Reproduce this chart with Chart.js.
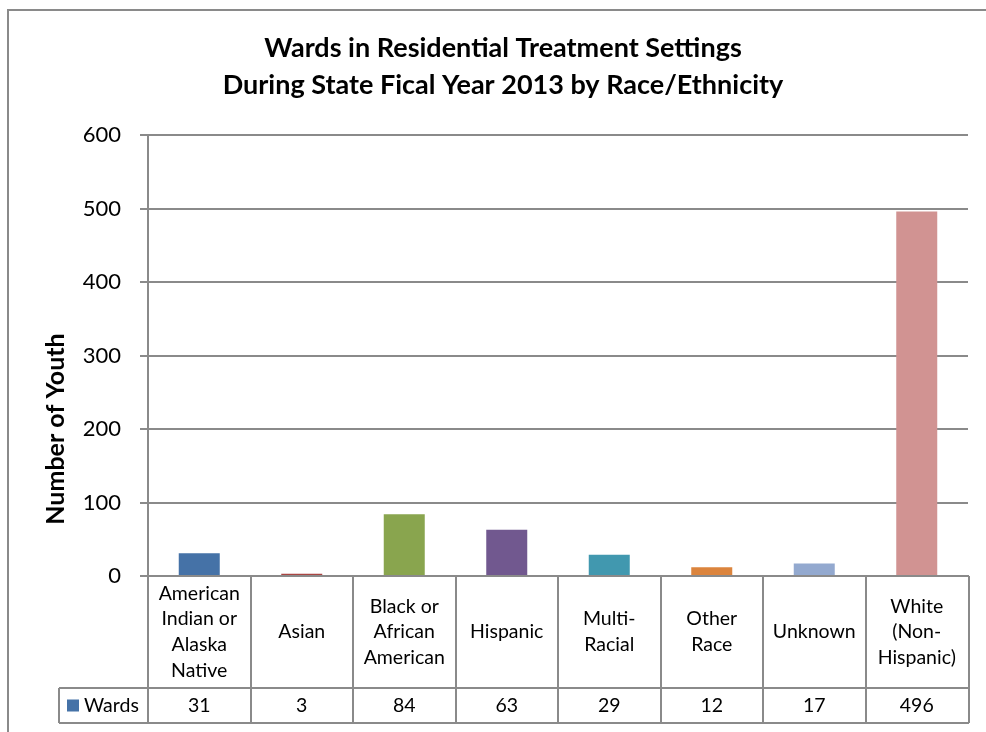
<!DOCTYPE html>
<html><head><meta charset="utf-8">
<script src="https://cdn.jsdelivr.net/npm/chart.js@4.4.0/dist/chart.umd.min.js"></script>
<style>html,body{margin:0;padding:0;background:#fff;} #wrap{width:986px;height:732px;position:relative;}</style>
</head><body><div id="wrap"><canvas id="c" width="986" height="732"></canvas></div>
<script>
const titleLines = ['Wards in Residential Treatment Settings', 'During State Fical Year 2013 by Race/Ethnicity'];
const categories = [
  ['American', 'Indian or', 'Alaska', 'Native'],
  ['Asian'],
  ['Black or', 'African', 'American'],
  ['Hispanic'],
  ['Multi-', 'Racial'],
  ['Other', 'Race'],
  ['Unknown'],
  ['White', '(Non-', 'Hispanic)']
];
const seriesName = 'Wards';
const wards = [31, 3, 84, 63, 29, 12, 17, 496];
const barColors = ['#4572A7', '#AA4643', '#89A54E', '#71588F', '#4198AF', '#DB843D', '#93A9CF', '#D19392'];
const yMin = 0, yMax = 600, yStep = 100;
const yTitle = 'Number of Youth';

const GRID = '#8a8a8a';
const FONT = 'Lato';

const tablePlugin = {
  id: 'dataTable',
  beforeDraw(chart) {
    const ctx = chart.ctx;
    ctx.save();
    ctx.strokeStyle = GRID; ctx.lineWidth = 2;
    ctx.beginPath(); ctx.moveTo(8, 732); ctx.lineTo(8, 10); ctx.lineTo(986, 10); ctx.stroke();
    ctx.restore();
  },
  afterDraw(chart) {
    const ctx = chart.ctx, a = chart.chartArea, x = chart.scales.x;
    const n = categories.length;
    const w = (a.right - a.left) / n;
    const top = a.bottom, bot = x.bottom, mid = bot - 35;
    const legLeft = 59;
    ctx.save();
    ctx.strokeStyle = GRID; ctx.lineWidth = 2;
    ctx.beginPath();
    ctx.moveTo(a.left, top); ctx.lineTo(a.right + 1, top);
    ctx.moveTo(legLeft, mid); ctx.lineTo(a.right + 1, mid);
    ctx.moveTo(legLeft, bot); ctx.lineTo(a.right + 1, bot);
    ctx.moveTo(legLeft, mid); ctx.lineTo(legLeft, bot);
    for (let i = 0; i <= n; i++) {
      const xx = Math.round(x.getPixelForValue(i) - w / 2) + (i === n ? 1 : 0);
      ctx.moveTo(xx, top); ctx.lineTo(xx, bot);
    }
    ctx.stroke();
    ctx.fillStyle = '#000';
    ctx.font = '19.5px ' + FONT;
    ctx.textAlign = 'center'; ctx.textBaseline = 'middle';
    const lh = 25.7;
    const labelCenter = (top + mid) / 2;
    const valCenter = (mid + bot) / 2;
    categories.forEach((lines, i) => {
      const cx = x.getPixelForValue(i);
      const y0 = labelCenter - (lines.length - 1) * lh / 2;
      lines.forEach((t, j) => ctx.fillText(t, cx, y0 + j * lh));
      ctx.fillText(String(wards[i]), cx, valCenter);
    });
    ctx.fillStyle = barColors[0];
    ctx.fillRect(67, valCenter - 6, 12, 12);
    ctx.fillStyle = '#000';
    ctx.textAlign = 'left';
    ctx.fillText(seriesName, 84, valCenter);
    ctx.save();
    ctx.translate(56, (a.top + bot) / 2);
    ctx.rotate(-Math.PI / 2);
    ctx.textAlign = 'center';
    ctx.font = 'bold 25px ' + FONT;
    ctx.fillText(yTitle, 0, 0);
    ctx.restore();
    ctx.restore();
  }
};

new Chart(document.getElementById('c'), {
  type: 'bar',
  data: {
    labels: categories.map(c => c.join(' ')),
    datasets: [{
      label: seriesName,
      data: wards,
      backgroundColor: barColors,
      borderWidth: 0,
      categoryPercentage: 1,
      barPercentage: 0.4
    }]
  },
  options: {
    responsive: false,
    animation: false,
    layout: { padding: { left: 38, right: 18, top: 0, bottom: 9 } },
    plugins: {
      legend: { display: false },
      tooltip: { enabled: false },
      title: {
        display: true, text: titleLines, color: '#000',
        font: { family: FONT, size: 27, weight: 'bold', lineHeight: 37 / 27 },
        padding: { top: 30, bottom: 31 }
      }
    },
    scales: {
      x: {
        ticks: { display: false },
        grid: { display: false },
        border: { display: false },
        afterFit(s) { s.height = 147; }
      },
      y: {
        min: yMin, max: yMax,
        ticks: { stepSize: yStep, color: '#000', font: { family: FONT, size: 22 }, padding: 19 },
        grid: { color: GRID, lineWidth: 2, tickLength: 8 },
        border: { color: GRID, width: 2 },
        afterFit(s) { s.width = 148 - 38; }
      }
    }
  },
  plugins: [tablePlugin]
});
</script>
</body></html>
